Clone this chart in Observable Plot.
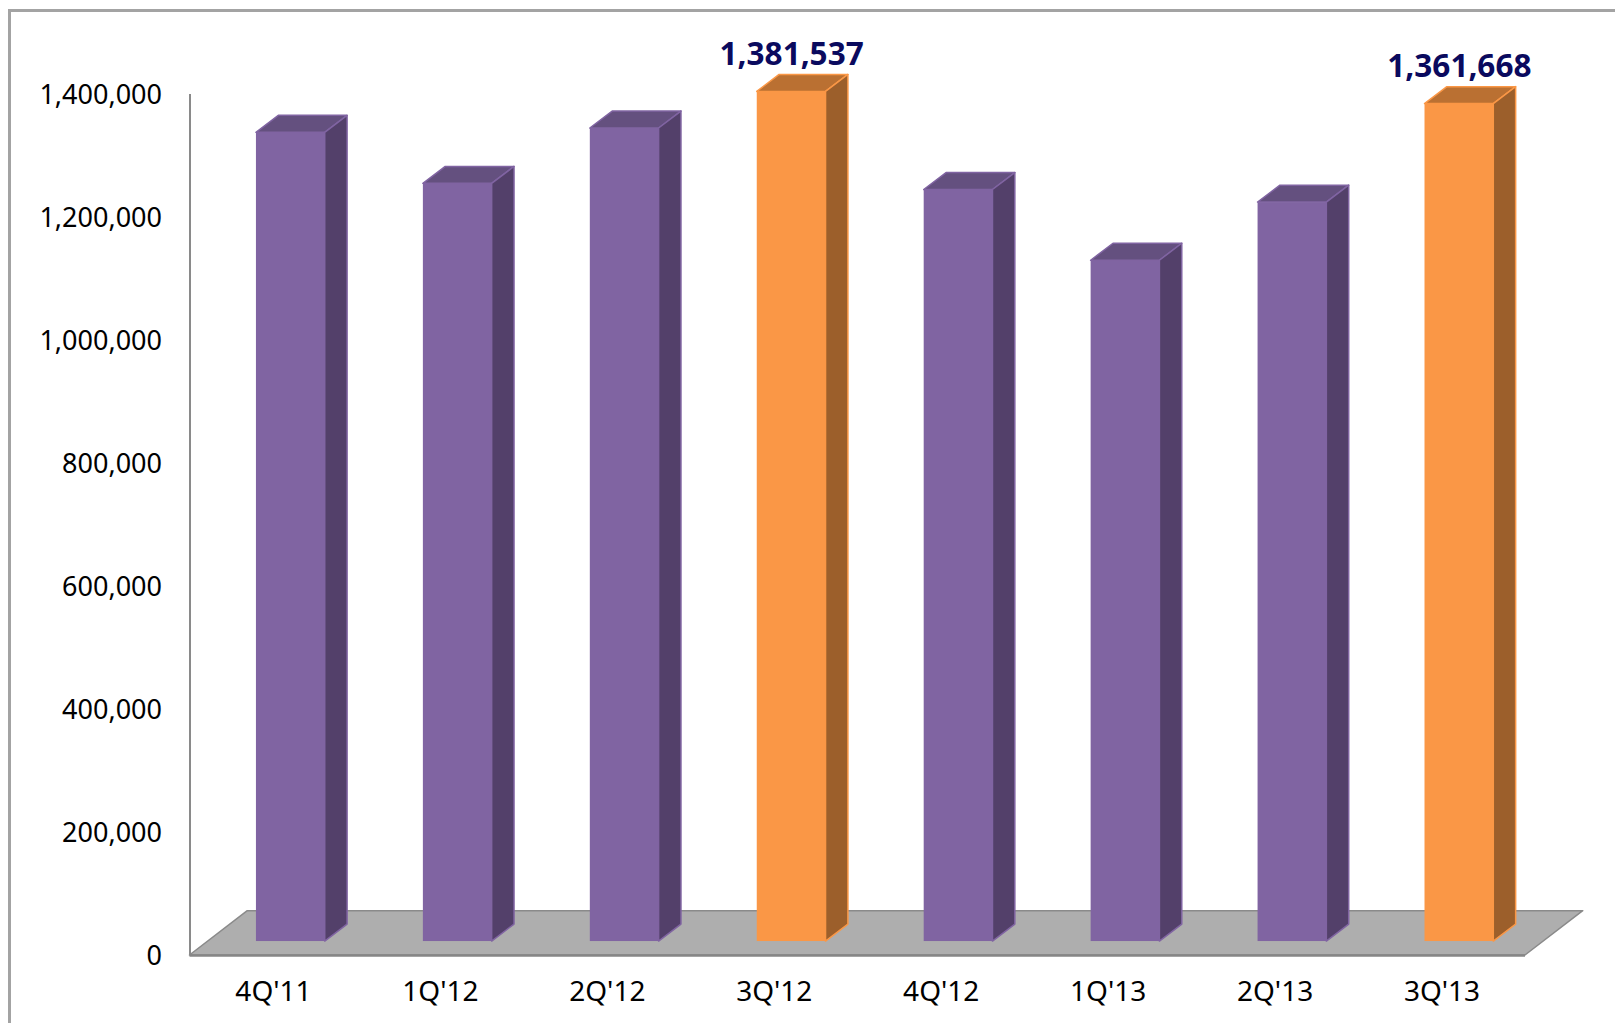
<!DOCTYPE html>
<html><head><meta charset="utf-8">
<script src="https://cdn.jsdelivr.net/npm/d3@7"></script>
<script src="https://cdn.jsdelivr.net/npm/@observablehq/plot@0.6"></script>
<style>
html,body{margin:0;padding:0;background:#fff;overflow:hidden}
#wrap{position:relative;width:1615px;height:1023px}
#edge{position:absolute;left:8px;top:9px;right:-10px;bottom:-10px;border:3px solid #a3a3a3;pointer-events:none;box-sizing:border-box}
</style></head><body>
<div id="wrap"><div id="edge"></div><div id="chart"></div></div>
<script>
const categories=["4Q'11","1Q'12","2Q'12","3Q'12","4Q'12","1Q'13","2Q'13","3Q'13"];
const values=[1315000,1232000,1322000,1381537,1222000,1107000,1201500,1361668];
const highlighted=["3Q'12","3Q'13"];
const yTicks=[0,200000,400000,600000,800000,1000000,1200000,1400000];

// Pseudo-3D depth, in data units of the two scales
const barStart=0.398, barEnd=0.81, depthX=0.134;
const lift=22700, depthY=27600;
const floorDepthX=0.346, floorDepthY=72000;

const rows=categories.map((c,i)=>({c,i,v:values[i],hot:highlighted.includes(c)}));
const purple=rows.filter(d=>!d.hot), orange=rows.filter(d=>d.hot);
const side=rs=>rs.flatMap(d=>[
  {k:d.c,x:d.i+barEnd,y1:lift,y2:d.v+lift},
  {k:d.c,x:d.i+barEnd+depthX,y1:lift+depthY,y2:d.v+lift+depthY}]);
const top_=rs=>rs.flatMap(d=>[
  {k:d.c,y:d.v+lift,x1:d.i+barStart,x2:d.i+barEnd},
  {k:d.c,y:d.v+lift+depthY,x1:d.i+barStart+depthX,x2:d.i+barEnd+depthX}]);
const bars=(rs,front,sideC,topC,edge)=>[
  Plot.areaX(top_(rs),{y:"y",x1:"x1",x2:"x2",z:"k",fill:topC,stroke:edge,strokeWidth:1.5}),
  Plot.areaY(side(rs),{x:"x",y1:"y1",y2:"y2",z:"k",fill:sideC,stroke:edge,strokeWidth:1.5}),
  Plot.rect(rs,{x1:d=>d.i+barStart,x2:d=>d.i+barEnd,y1:lift,y2:d=>d.v+lift,fill:front})
];
const floor=[{y:0,x1:0,x2:categories.length},{y:floorDepthY,x1:floorDepthX,x2:categories.length+floorDepthX}];

const plot=Plot.plot({
  width:1615,height:1023,
  marginLeft:189.5,marginRight:90,marginTop:94,marginBottom:68,
  style:{fontFamily:"'Noto Sans',sans-serif",background:"transparent",overflow:"visible"},
  x:{type:"linear",domain:[0,categories.length]},
  y:{domain:[0,1400000]},
  marks:[
    Plot.areaX(floor,{y:"y",x1:"x1",x2:"x2",fill:"#aeaeae",stroke:"#8a8a8a",strokeWidth:1.5}),
    Plot.ruleX([0],{y1:0,y2:1400000,stroke:"#8a8a8a",strokeWidth:2}),
    Plot.ruleY([0],{x1:0,x2:categories.length,stroke:"#868686",strokeWidth:2.5}),
    ...bars(purple,"#8064a2","#53406a","#64507f","#8064a2"),
    ...bars(orange,"#fa9746","#9c5f2b","#ba7032","#fa9746"),
    Plot.axisY({ticks:yTicks,tickSize:0,tickPadding:28,dy:1,tickFormat:d3.format(","),fontSize:27,fill:"#000",label:null}),
    Plot.axisX({ticks:categories.map((c,i)=>i+0.5),tickFormat:x=>categories[x-0.5],tickSize:0,tickPadding:26,fontSize:28,fill:"#000",label:null}),
    Plot.text(orange,{x:d=>d.i+(barStart+barEnd)/2,y:d=>d.v+lift+depthY,text:d=>d3.format(",")(d.v),dy:-20,fontSize:31.5,fontWeight:700,fill:"#0a0a5e"})
  ]
});
document.getElementById("chart").append(plot);
</script>
</body></html>
